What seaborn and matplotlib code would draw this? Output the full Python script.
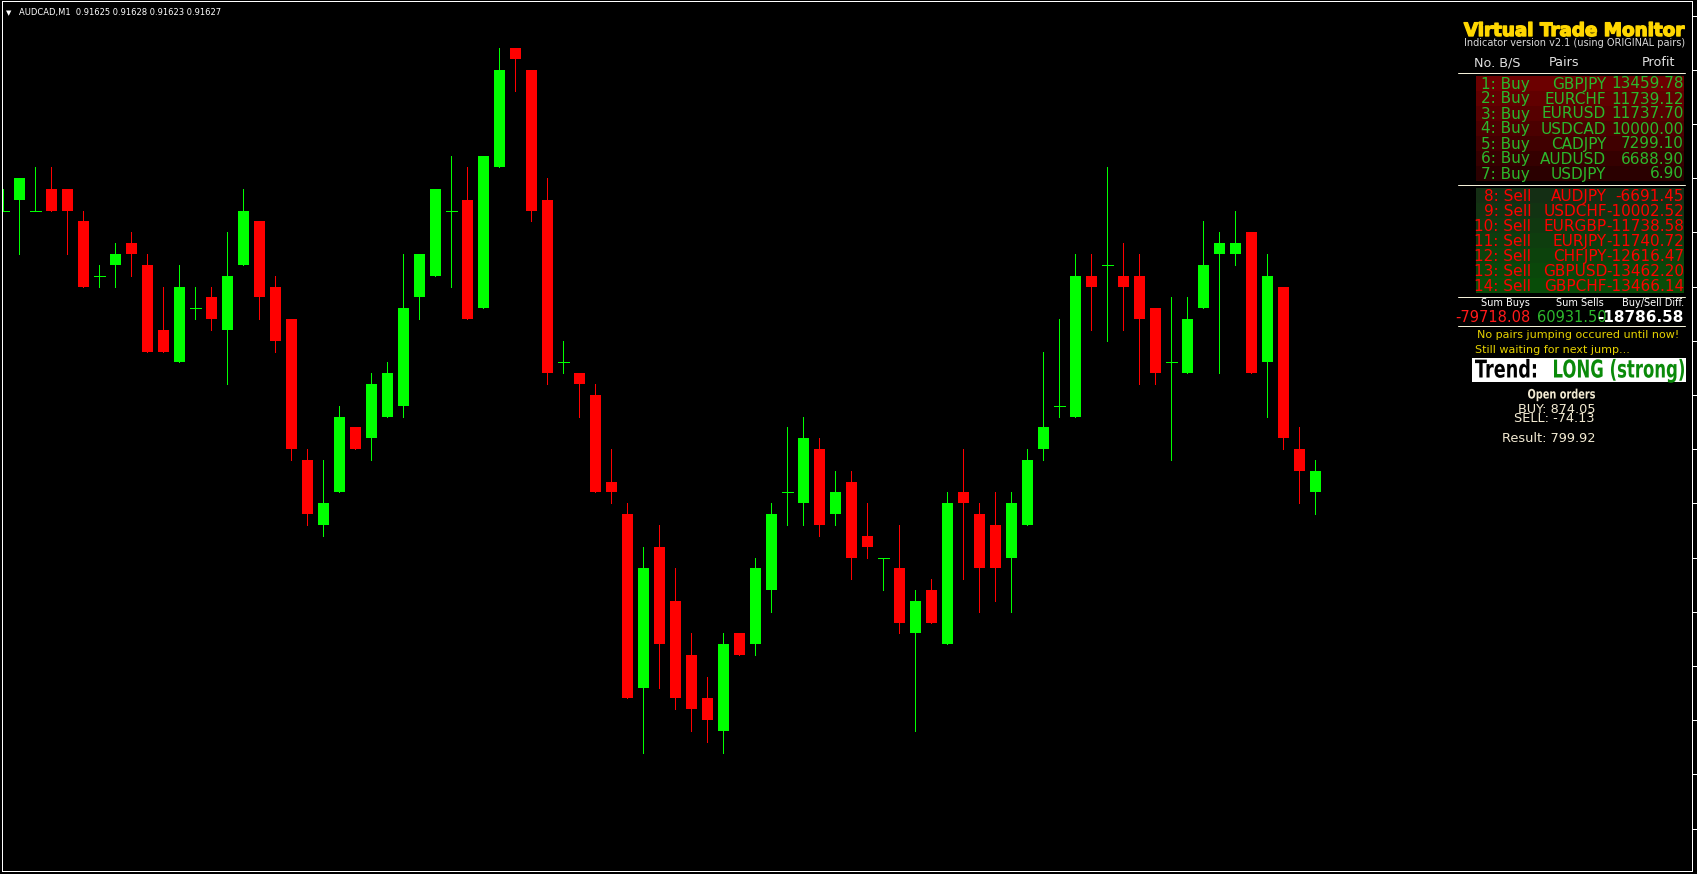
import matplotlib
matplotlib.use("Agg")
import matplotlib.pyplot as plt
import matplotlib.patches as mpatches
import matplotlib.patheffects as pe
from matplotlib.lines import Line2D
from matplotlib.textpath import TextPath
from matplotlib.font_manager import FontProperties
from matplotlib.transforms import Affine2D
import seaborn as sns

# AUDCAD M1 candles, in points (0.00001) relative to the last close 0.91627
base = 0.91627
pt = 0.00001
opens = [24, 25, 24, 26, 26, 23, 18, 19, 21, 19, 13, 10, 15, 16, 13, 19, 23, 17, 14, 1,
         -5, -2, 4, 3, 5, 6, 16, 18, 24, 25, 15, 28, 39, 37, 25, 10, 9, 7, -1, -4,
         -20, -7, -12, -17, -21, -24, -15, -16, -11, -2, -3, 2, -4, -1, -6, -8, -9, -15, -11, -16,
         -2, -4, -5, -8, -5, 2, 6, 5, 18, 19, 18, 18, 15, 10, 9, 15, 20, 20, 22, 10,
         17, 2, -2]
highs = [26, 27, 28, 28, 26, 24, 19, 21, 22, 20, 17, 19, 17, 17, 22, 26, 23, 18, 14, 2,
         1, 6, 4, 9, 10, 20, 20, 26, 29, 28, 29, 39, 39, 37, 27, 12, 9, 8, 2, -3,
         -7, -5, -9, -15, -19, -15, -15, -8, -3, 4, 5, 3, 0, 0, -3, -8, -5, -11, -10, -2,
         2, -3, -2, -2, 2, 11, 14, 20, 20, 28, 21, 20, 15, 16, 16, 23, 22, 24, 22, 20,
         17, 4, 1]
lows = [24, 20, 24, 24, 20, 17, 17, 17, 18, 11, 11, 10, 14, 13, 8, 19, 14, 11, 1, -5,
        -6, -2, 2, 1, 5, 5, 14, 18, 17, 14, 15, 28, 35, 23, 8, 9, 5, -2, -3, -21,
        -26, -20, -22, -24, -25, -26, -17, -17, -13, -5, -5, -6, -5, -10, -8, -11, -15, -24, -14, -16,
        -10, -13, -12, -13, -5, 1, 5, 5, 13, 12, 13, 8, 8, 1, 9, 15, 9, 19, 9, 5,
        2, -3, -4]
closes = [24, 27, 24, 24, 24, 17, 18, 20, 20, 11, 11, 17, 15, 14, 18, 24, 16, 12, 2, -4,
          -3, 5, 2, 8, 9, 15, 20, 26, 24, 14, 29, 37, 38, 24, 9, 10, 8, -2, -2, -21,
          -9, -16, -21, -22, -23, -16, -17, -9, -4, -2, 3, -5, -2, -8, -7, -8, -14, -12, -14, -3,
          -3, -9, -9, -3, 1, 4, 6, 18, 17, 19, 17, 14, 9, 10, 14, 19, 21, 21, 9, 18,
          3, 0, 0]

# Virtual Trade Monitor panel
buy_pairs = ["GBPJPY", "EURCHF", "EURUSD", "USDCAD", "CADJPY", "AUDUSD", "USDJPY"]
buy_profit = ["13459.78", "11739.12", "11737.70", "10000.00", "7299.10", "6688.90", "6.90"]
sell_pairs = ["AUDJPY", "USDCHF", "EURGBP", "EURJPY", "CHFJPY", "GBPUSD", "GBPCHF"]
sell_profit = ["-6691.45", "-10002.52", "-11738.58", "-11740.72", "-12616.47", "-13462.20", "-13466.14"]
sum_labels = ["Sum Buys", "Sum Sells", "Buy/Sell Diff."]
sum_values = ["-79718.08", "60931.50", "-18786.58"]

W, H = 1697, 874
sns.set_theme(style="dark", rc={"axes.facecolor": "black", "figure.facecolor": "black"})
plt.rcParams["font.family"] = ["DejaVu Sans"]

fig = plt.figure(figsize=(W / 100, H / 100), dpi=100)
ax = fig.add_axes([2 / W, 3 / H, 1690 / W, 870 / H])
ax.set_facecolor("black")

lw = 0.72
bull, bear = "#00ff00", "#ff0000"
for i, (o, h, l, c) in enumerate(zip(opens, highs, lows, closes)):
    col = bull if c >= o else bear
    ax.vlines(i, base + l * pt, base + h * pt, color=col, lw=lw, antialiased=False)
    if o == c:
        ax.hlines(base + o * pt, i - 0.34, i + 0.34, color=col, lw=lw, antialiased=False)
    else:
        ax.bar(i, abs(c - o) * pt, bottom=base + min(o, c) * pt, width=0.69,
               color=col, linewidth=0, antialiased=False)

ax.set_xlim(-0.081, 105.54)
ax.set_ylim(base - 36.92 * pt, base + 43.34 * pt)
ax.set_xticks(range(4, 83, 4))
ax.set_yticks([base + k * pt for k in range(-33, 44, 5)])
ax.yaxis.tick_right()
ax.tick_params(axis="both", colors="white", direction="out", length=2.5, width=lw,
               labelbottom=False, labelright=False, labelleft=False)
ax.tick_params(axis="y", length=3.5)
ax.grid(False)
for s in ax.spines.values():
    s.set_visible(True)
    s.set_color("white")
    s.set_linewidth(lw)


def fx(x):
    return x / W


def fy(y):
    return 1 - y / H


def put(x, y, s, **kw):
    kw.setdefault("va", "baseline")
    fig.text(fx(x), fy(y), s, **kw)


def hline(x0, x1, y, color="#f4f0d8"):
    fig.add_artist(Line2D([fx(x0), fx(x1)], [fy(y), fy(y)], color=color, lw=lw,
                          transform=fig.transFigure))


def box(x0, y0, x1, y1, color):
    fig.add_artist(mpatches.Rectangle((fx(x0), fy(y1)), (x1 - x0) / W, (y1 - y0) / H,
                                      facecolor=color, edgecolor="none",
                                      transform=fig.transFigure, zorder=1))


def narrow_text(x0, x1, y, s, em, color):
    # no condensed font installed: squeeze a bold outline into the span x0..x1
    path = TextPath((0, 0), s, size=em, prop=FontProperties(family="DejaVu Sans", weight="bold"))
    ext = path.get_extents()
    tr = Affine2D().translate(-ext.x0, 0).scale((x1 - x0) / ext.width, 1).translate(x0, H - y)
    fig.add_artist(mpatches.PathPatch(path, transform=tr, facecolor=color,
                                      edgecolor="none", zorder=3))


# chart header
put(6, 15.5, "\u25bc", color="white", fontsize=5)
put(19, 15.5, "AUDCAD,M1  0.91625 0.91628 0.91623 0.91627", color="white", fontsize=6)

# panel title
put(1684, 36, "Virtual Trade Monitor", color="#ffd700", fontsize=13.2, weight="bold", ha="right",
    path_effects=[pe.withStroke(linewidth=1.0, foreground="#ffd700")])
put(1685, 45.5, "Indicator version v2.1 (using ORIGINAL pairs)", color="#d8d8d8", fontsize=7, ha="right")
put(1474, 66.5, "No. B/S", color="#e0e0e0", fontsize=9.2)
put(1549, 66.5, "Pairs", color="#e0e0e0", fontsize=9.2)
put(1675, 66.5, "Profit", color="#e0e0e0", fontsize=9.2, ha="right")
hline(1458, 1685, 72.5)

green_txt = "#2cb82c"
row_fs = 11
for i in range(7):
    shade = 0x6c - i * 0x0b
    box(1476, 76 + 15 * i, 1684, 91 + 15 * i, "#%02x0000" % shade)
    yb = 88.5 + 15 * i
    put(1530, yb, f"{i + 1}: Buy", color=green_txt, fontsize=row_fs, ha="right")
    put(1606, yb, buy_pairs[i], color=green_txt, fontsize=row_fs, ha="right")
    put(1684, yb, buy_profit[i], color=green_txt, fontsize=row_fs, ha="right")
hline(1458, 1685, 185)

for i in range(7):
    g = 0x2e + i * 0x05
    rb = max(0, 0x14 - 2 * i)
    box(1476, 188 + 15 * i, 1684, 203 + 15 * i, "#%02x%02x%02x" % (rb, g, rb))
    yb = 201 + 15 * i
    put(1531, yb, f"{i + 8}: Sell", color="#ff0000", fontsize=row_fs, ha="right")
    put(1607, yb, sell_pairs[i], color="#ff0000", fontsize=row_fs, ha="right")
    put(1684, yb, sell_profit[i], color="#ff0000", fontsize=row_fs, ha="right")
hline(1458, 1685, 297)

put(1530, 306.5, sum_labels[0], color="white", fontsize=7, ha="right")
put(1604, 306.5, sum_labels[1], color="white", fontsize=7, ha="right")
put(1684, 306.5, sum_labels[2], color="white", fontsize=7, ha="right")
put(1530, 322.5, sum_values[0], color="#ff1a1a", fontsize=10.5, ha="right")
put(1607, 322.5, sum_values[1], color=green_txt, fontsize=10.5, ha="right")
put(1684, 322.5, sum_values[2], color="white", fontsize=11, weight="bold", ha="right")
hline(1458, 1685, 326)

put(1679, 338.5, "No pairs jumping occured until now!", color="#e6d200", fontsize=8, ha="right")
put(1475, 353, "Still waiting for next jump...", color="#e6d200", fontsize=8)

box(1472, 358, 1686, 382, "white")
narrow_text(1475, 1536, 377.5, "Trend:", 24.5, "black")
narrow_text(1554, 1684, 377.5, "LONG (strong)", 24.5, "#0a8a0a")

cream = "#f2ead2"
narrow_text(1528, 1595, 398.5, "Open orders", 13, cream)
put(1595, 412.5, "BUY: 874.05", color=cream, fontsize=9.3, ha="right")
put(1595, 422, "SELL: -74.13", color=cream, fontsize=9.3, ha="right")
put(1595, 442.5, "Result: 799.92", color=cream, fontsize=9.3, ha="right")

fig.savefig("out.png", dpi=100, facecolor="black")
